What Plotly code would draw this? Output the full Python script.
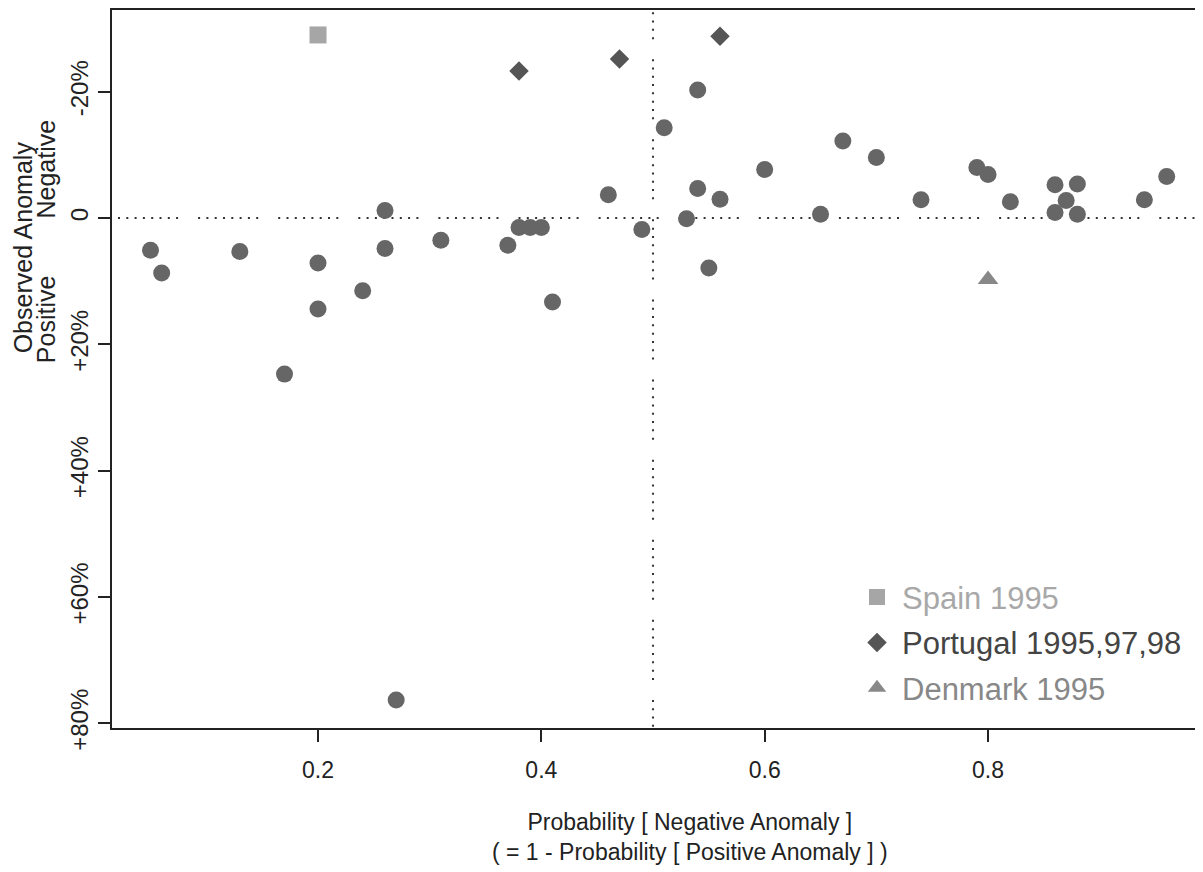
import plotly.graph_objects as go

# ---- data ----
circle_x = [0.05, 0.06, 0.13, 0.17, 0.20, 0.20, 0.24, 0.26, 0.26, 0.27,
            0.31, 0.37, 0.38, 0.39, 0.40, 0.41, 0.46, 0.49, 0.51, 0.53,
            0.54, 0.54, 0.55, 0.56, 0.60, 0.65, 0.67, 0.70, 0.74, 0.79,
            0.80, 0.82, 0.86, 0.86, 0.87, 0.88, 0.88, 0.94, 0.96]
circle_y = [5.1, 8.7, 5.3, 24.7, 7.1, 14.4, 11.5, -1.2, 4.8, 76.3,
            3.5, 4.3, 1.5, 1.5, 1.5, 13.3, -3.7, 1.8, -14.3, 0.1,
            -20.3, -4.7, 7.9, -3.0, -7.7, -0.6, -12.2, -9.6, -2.9, -8.0,
            -6.9, -2.6, -5.3, -0.9, -2.8, -5.4, -0.6, -2.9, -6.6]

spain_x = [0.20]
spain_y = [-29.0]
portugal_x = [0.38, 0.47, 0.56]
portugal_y = [-23.3, -25.2, -28.8]
denmark_x = [0.80]
denmark_y = [9.7]

y_tickvals = [-20, 0, 20, 40, 60, 80]
y_ticktext = ["-20%", "0", "+20%", "+40%", "+60%", "+80%"]
x_tickvals = [0.2, 0.4, 0.6, 0.8]
x_ticktext = ["0.2", "0.4", "0.6", "0.8"]

FONT = "Liberation Sans, Arial, Helvetica, sans-serif"
X_RANGE = [0.01552, 0.99251]
Y_RANGE = [80.73, -32.95]
DOTS = ",".join(["2px,6.3px"] * 7 + ["2px,20px"])

# page is offset by the 8px default body margin: plot area spans x 112..1203, y 8..728
PX0, PX1, PY0, PY1 = 112, 1203, 8, 728


def px(x):
    return (x - PX0) / (PX1 - PX0)


def py(y):
    return (PY1 - y) / (PY1 - PY0)


fig = go.Figure()
fig.add_trace(go.Scatter(x=circle_x, y=circle_y, mode="markers", showlegend=False,
                         marker=dict(symbol="circle", size=17, color="#666666",
                                     line=dict(width=0))))
fig.add_trace(go.Scatter(x=spain_x, y=spain_y, mode="markers", legendgroup="a",
                         name='<span style="color:#a8a8a8">Spain 1995</span>',
                         marker=dict(symbol="square", size=17, color="#a6a6a6",
                                     line=dict(width=0))))
fig.add_trace(go.Scatter(x=portugal_x, y=portugal_y, mode="markers", legendgroup="b",
                         name='<span style="color:#444444">Portugal 1995,97,98</span>',
                         marker=dict(symbol="diamond", size=15, color="#555555",
                                     line=dict(width=0))))
fig.add_trace(go.Scatter(x=denmark_x, y=denmark_y, mode="markers", legendgroup="c",
                         name='<span style="color:#888888">Denmark 1995</span>',
                         marker=dict(symbol="triangle-up", size=18, color="#888888",
                                     line=dict(width=0))))

# dotted reference lines
fig.add_shape(type="line", xref="x", yref="y", x0=0.02089, x1=X_RANGE[1], y0=0, y1=0,
              line=dict(color="#333333", width=2, dash=DOTS), layer="below")
fig.add_shape(type="line", xref="x", yref="y", x0=0.5, x1=0.5, y0=-37.85, y1=Y_RANGE[0],
              line=dict(color="#333333", width=2, dash=DOTS), layer="below")

# axis titles as annotations
fig.add_annotation(xref="paper", yref="paper", x=px(690), y=py(837.5),
                   text="Probability [ Negative Anomaly ]<br>( = 1 - Probability [ Positive Anomaly ] )",
                   showarrow=False, align="center",
                   font=dict(family=FONT, size=23, color="#222222"),
                   xanchor="center", yanchor="middle")
fig.add_annotation(xref="paper", yref="paper", x=px(23), y=py(246),
                   text="Observed Anomaly", showarrow=False, textangle=-90,
                   font=dict(family=FONT, size=25, color="#222222"),
                   xanchor="center", yanchor="middle")
fig.add_annotation(xref="paper", yref="paper", x=px(46), y=py(318),
                   text="Positive", showarrow=False, textangle=-90,
                   font=dict(family=FONT, size=25, color="#222222"),
                   xanchor="center", yanchor="middle")
fig.add_annotation(xref="paper", yref="paper", x=px(46), y=py(168),
                   text="Negative", showarrow=False, textangle=-90,
                   font=dict(family=FONT, size=25, color="#222222"),
                   xanchor="center", yanchor="middle")

fig.update_layout(
    width=1195, height=864,
    margin=dict(l=104, r=0, t=0, b=144, pad=0),
    paper_bgcolor="white", plot_bgcolor="white",
    font=dict(family=FONT, color="#222222"),
    showlegend=True,
    legend=dict(x=px(852), y=py(570), xanchor="left", yanchor="top",
                bgcolor="rgba(0,0,0,0)", font=dict(family=FONT, size=31),
                tracegroupgap=2, itemsizing="trace", itemwidth=40),
    xaxis=dict(range=X_RANGE, tickvals=x_tickvals, ticktext=x_ticktext,
               showgrid=False, zeroline=False, showline=True, linecolor="#222222",
               linewidth=2, mirror=True, ticks="outside", ticklen=12, tickwidth=2,
               tickcolor="#222222", ticklabelstandoff=8,
               tickfont=dict(family=FONT, size=23, color="#222222")),
    yaxis=dict(range=Y_RANGE, tickvals=y_tickvals, ticktext=y_ticktext,
               showgrid=False, zeroline=False, showline=True, linecolor="#222222",
               linewidth=2, mirror=False, ticks="outside", ticklen=12, tickwidth=2,
               tickcolor="#222222", tickangle=-90,
               tickfont=dict(family=FONT, size=24, color="#222222")),
)

fig.write_html("out.html")
